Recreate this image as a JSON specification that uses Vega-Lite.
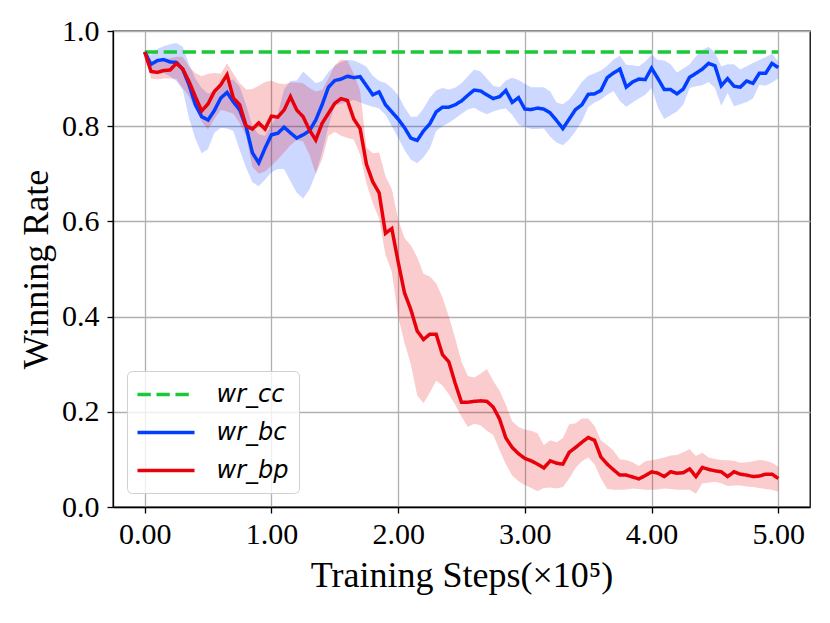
{
  "$schema": "https://vega.github.io/schema/vega-lite/v6.json",
  "width": 697,
  "height": 476,
  "autosize": {"type": "none"},
  "padding": {"left": 113, "top": 31, "right": 20, "bottom": 116},
  "background": "white",
  "config": {
    "view": {"stroke": "black", "strokeWidth": 1.3},
    "axis": {
      "labelFont": "Liberation Serif",
      "labelFontSize": 30,
      "labelColor": "black",
      "titleFont": "Liberation Serif",
      "titleFontSize": 36,
      "titleFontWeight": "normal",
      "titleColor": "black",
      "domainColor": "black",
      "domainWidth": 1.3,
      "tickColor": "black",
      "tickWidth": 1.3,
      "tickSize": 6,
      "gridColor": "#b0b0b0",
      "gridWidth": 1.3,
      "gridOpacity": 1,
      "labelFlush": false,
      "labelOverlap": false
    },
    "legend": {
      "orient": "bottom-left",
      "direction": "vertical",
      "offset": 14,
      "padding": 10,
      "fillColor": "rgba(255,255,255,0.8)",
      "strokeColor": "#d0d0d0",
      "cornerRadius": 5,
      "labelFont": "DejaVu Sans",
      "labelFontStyle": "italic",
      "labelFontSize": 24,
      "labelColor": "black",
      "symbolSize": 529,
      "symbolStrokeWidth": 3.5,
      "symbolOffset": 15.5,
      "labelOffset": 37,
      "rowPadding": 12
    }
  },
  "data": {
    "values": [
      {"step": 0.00, "wr_cc": 0.956, "wr_bc": 0.956, "bc_lo": 0.956, "bc_hi": 0.956, "wr_bp": 0.956, "bp_lo": 0.956, "bp_hi": 0.956},
      {"step": 0.05, "wr_cc": 0.956, "wr_bc": 0.930, "bc_lo": 0.915, "bc_hi": 0.950, "wr_bp": 0.915, "bp_lo": 0.900, "bp_hi": 0.935},
      {"step": 0.10, "wr_cc": 0.956, "wr_bc": 0.938, "bc_lo": 0.915, "bc_hi": 0.962, "wr_bp": 0.913, "bp_lo": 0.898, "bp_hi": 0.935},
      {"step": 0.15, "wr_cc": 0.956, "wr_bc": 0.940, "bc_lo": 0.912, "bc_hi": 0.968, "wr_bp": 0.917, "bp_lo": 0.900, "bp_hi": 0.940},
      {"step": 0.20, "wr_cc": 0.956, "wr_bc": 0.935, "bc_lo": 0.905, "bc_hi": 0.972, "wr_bp": 0.918, "bp_lo": 0.900, "bp_hi": 0.943},
      {"step": 0.25, "wr_cc": 0.956, "wr_bc": 0.934, "bc_lo": 0.895, "bc_hi": 0.975, "wr_bp": 0.932, "bp_lo": 0.899, "bp_hi": 0.946},
      {"step": 0.30, "wr_cc": 0.956, "wr_bc": 0.920, "bc_lo": 0.876, "bc_hi": 0.967, "wr_bp": 0.920, "bp_lo": 0.880, "bp_hi": 0.946},
      {"step": 0.35, "wr_cc": 0.956, "wr_bc": 0.887, "bc_lo": 0.817, "bc_hi": 0.930, "wr_bp": 0.894, "bp_lo": 0.862, "bp_hi": 0.925},
      {"step": 0.40, "wr_cc": 0.956, "wr_bc": 0.845, "bc_lo": 0.773, "bc_hi": 0.900, "wr_bp": 0.862, "bp_lo": 0.838, "bp_hi": 0.912},
      {"step": 0.45, "wr_cc": 0.956, "wr_bc": 0.820, "bc_lo": 0.743, "bc_hi": 0.880, "wr_bp": 0.832, "bp_lo": 0.810, "bp_hi": 0.905},
      {"step": 0.50, "wr_cc": 0.956, "wr_bc": 0.813, "bc_lo": 0.752, "bc_hi": 0.868, "wr_bp": 0.847, "bp_lo": 0.793, "bp_hi": 0.910},
      {"step": 0.55, "wr_cc": 0.956, "wr_bc": 0.833, "bc_lo": 0.786, "bc_hi": 0.875, "wr_bp": 0.873, "bp_lo": 0.815, "bp_hi": 0.912},
      {"step": 0.60, "wr_cc": 0.956, "wr_bc": 0.859, "bc_lo": 0.797, "bc_hi": 0.885, "wr_bp": 0.887, "bp_lo": 0.834, "bp_hi": 0.910},
      {"step": 0.65, "wr_cc": 0.956, "wr_bc": 0.871, "bc_lo": 0.795, "bc_hi": 0.896, "wr_bp": 0.908, "bp_lo": 0.831, "bp_hi": 0.932},
      {"step": 0.70, "wr_cc": 0.956, "wr_bc": 0.851, "bc_lo": 0.790, "bc_hi": 0.898, "wr_bp": 0.859, "bp_lo": 0.826, "bp_hi": 0.910},
      {"step": 0.75, "wr_cc": 0.956, "wr_bc": 0.834, "bc_lo": 0.750, "bc_hi": 0.883, "wr_bp": 0.845, "bp_lo": 0.806, "bp_hi": 0.890},
      {"step": 0.80, "wr_cc": 0.956, "wr_bc": 0.799, "bc_lo": 0.713, "bc_hi": 0.845, "wr_bp": 0.801, "bp_lo": 0.780, "bp_hi": 0.877},
      {"step": 0.85, "wr_cc": 0.956, "wr_bc": 0.744, "bc_lo": 0.682, "bc_hi": 0.800, "wr_bp": 0.794, "bp_lo": 0.715, "bp_hi": 0.878},
      {"step": 0.90, "wr_cc": 0.956, "wr_bc": 0.723, "bc_lo": 0.674, "bc_hi": 0.783, "wr_bp": 0.807, "bp_lo": 0.700, "bp_hi": 0.885},
      {"step": 0.95, "wr_cc": 0.956, "wr_bc": 0.754, "bc_lo": 0.688, "bc_hi": 0.780, "wr_bp": 0.794, "bp_lo": 0.705, "bp_hi": 0.893},
      {"step": 1.00, "wr_cc": 0.956, "wr_bc": 0.782, "bc_lo": 0.703, "bc_hi": 0.803, "wr_bp": 0.821, "bp_lo": 0.717, "bp_hi": 0.896},
      {"step": 1.05, "wr_cc": 0.956, "wr_bc": 0.785, "bc_lo": 0.710, "bc_hi": 0.825, "wr_bp": 0.819, "bp_lo": 0.730, "bp_hi": 0.890},
      {"step": 1.10, "wr_cc": 0.956, "wr_bc": 0.798, "bc_lo": 0.710, "bc_hi": 0.877, "wr_bp": 0.834, "bp_lo": 0.745, "bp_hi": 0.888},
      {"step": 1.15, "wr_cc": 0.956, "wr_bc": 0.786, "bc_lo": 0.685, "bc_hi": 0.895, "wr_bp": 0.862, "bp_lo": 0.760, "bp_hi": 0.892},
      {"step": 1.20, "wr_cc": 0.956, "wr_bc": 0.775, "bc_lo": 0.660, "bc_hi": 0.896, "wr_bp": 0.834, "bp_lo": 0.771, "bp_hi": 0.892},
      {"step": 1.25, "wr_cc": 0.956, "wr_bc": 0.782, "bc_lo": 0.648, "bc_hi": 0.915, "wr_bp": 0.820, "bp_lo": 0.768, "bp_hi": 0.890},
      {"step": 1.30, "wr_cc": 0.956, "wr_bc": 0.790, "bc_lo": 0.667, "bc_hi": 0.903, "wr_bp": 0.792, "bp_lo": 0.740, "bp_hi": 0.880},
      {"step": 1.35, "wr_cc": 0.956, "wr_bc": 0.813, "bc_lo": 0.700, "bc_hi": 0.890, "wr_bp": 0.771, "bp_lo": 0.700, "bp_hi": 0.873},
      {"step": 1.40, "wr_cc": 0.956, "wr_bc": 0.845, "bc_lo": 0.745, "bc_hi": 0.895, "wr_bp": 0.806, "bp_lo": 0.730, "bp_hi": 0.876},
      {"step": 1.45, "wr_cc": 0.956, "wr_bc": 0.882, "bc_lo": 0.800, "bc_hi": 0.914, "wr_bp": 0.827, "bp_lo": 0.780, "bp_hi": 0.900},
      {"step": 1.50, "wr_cc": 0.956, "wr_bc": 0.896, "bc_lo": 0.843, "bc_hi": 0.927, "wr_bp": 0.848, "bp_lo": 0.788, "bp_hi": 0.928},
      {"step": 1.55, "wr_cc": 0.956, "wr_bc": 0.899, "bc_lo": 0.847, "bc_hi": 0.935, "wr_bp": 0.858, "bp_lo": 0.780, "bp_hi": 0.940},
      {"step": 1.60, "wr_cc": 0.956, "wr_bc": 0.905, "bc_lo": 0.851, "bc_hi": 0.939, "wr_bp": 0.854, "bp_lo": 0.775, "bp_hi": 0.938},
      {"step": 1.65, "wr_cc": 0.956, "wr_bc": 0.902, "bc_lo": 0.855, "bc_hi": 0.938, "wr_bp": 0.815, "bp_lo": 0.772, "bp_hi": 0.910},
      {"step": 1.70, "wr_cc": 0.956, "wr_bc": 0.904, "bc_lo": 0.850, "bc_hi": 0.932, "wr_bp": 0.795, "bp_lo": 0.740, "bp_hi": 0.875},
      {"step": 1.75, "wr_cc": 0.956, "wr_bc": 0.885, "bc_lo": 0.845, "bc_hi": 0.925, "wr_bp": 0.720, "bp_lo": 0.680, "bp_hi": 0.755},
      {"step": 1.80, "wr_cc": 0.956, "wr_bc": 0.866, "bc_lo": 0.841, "bc_hi": 0.906, "wr_bp": 0.683, "bp_lo": 0.638, "bp_hi": 0.743},
      {"step": 1.85, "wr_cc": 0.956, "wr_bc": 0.872, "bc_lo": 0.837, "bc_hi": 0.895, "wr_bp": 0.660, "bp_lo": 0.605, "bp_hi": 0.745},
      {"step": 1.90, "wr_cc": 0.956, "wr_bc": 0.845, "bc_lo": 0.824, "bc_hi": 0.891, "wr_bp": 0.575, "bp_lo": 0.530, "bp_hi": 0.695},
      {"step": 1.95, "wr_cc": 0.956, "wr_bc": 0.830, "bc_lo": 0.800, "bc_hi": 0.880, "wr_bp": 0.585, "bp_lo": 0.494, "bp_hi": 0.668},
      {"step": 2.00, "wr_cc": 0.956, "wr_bc": 0.815, "bc_lo": 0.776, "bc_hi": 0.865, "wr_bp": 0.515, "bp_lo": 0.400, "bp_hi": 0.605},
      {"step": 2.05, "wr_cc": 0.956, "wr_bc": 0.797, "bc_lo": 0.750, "bc_hi": 0.840, "wr_bp": 0.450, "bp_lo": 0.345, "bp_hi": 0.565},
      {"step": 2.10, "wr_cc": 0.956, "wr_bc": 0.775, "bc_lo": 0.730, "bc_hi": 0.820, "wr_bp": 0.415, "bp_lo": 0.300, "bp_hi": 0.550},
      {"step": 2.15, "wr_cc": 0.956, "wr_bc": 0.770, "bc_lo": 0.722, "bc_hi": 0.820, "wr_bp": 0.370, "bp_lo": 0.235, "bp_hi": 0.525},
      {"step": 2.20, "wr_cc": 0.956, "wr_bc": 0.790, "bc_lo": 0.735, "bc_hi": 0.837, "wr_bp": 0.352, "bp_lo": 0.218, "bp_hi": 0.490},
      {"step": 2.25, "wr_cc": 0.956, "wr_bc": 0.805, "bc_lo": 0.753, "bc_hi": 0.860, "wr_bp": 0.363, "bp_lo": 0.240, "bp_hi": 0.484},
      {"step": 2.30, "wr_cc": 0.956, "wr_bc": 0.830, "bc_lo": 0.790, "bc_hi": 0.875, "wr_bp": 0.363, "bp_lo": 0.265, "bp_hi": 0.470},
      {"step": 2.35, "wr_cc": 0.956, "wr_bc": 0.840, "bc_lo": 0.800, "bc_hi": 0.880, "wr_bp": 0.320, "bp_lo": 0.255, "bp_hi": 0.440},
      {"step": 2.40, "wr_cc": 0.956, "wr_bc": 0.840, "bc_lo": 0.807, "bc_hi": 0.877, "wr_bp": 0.305, "bp_lo": 0.237, "bp_hi": 0.400},
      {"step": 2.45, "wr_cc": 0.956, "wr_bc": 0.845, "bc_lo": 0.816, "bc_hi": 0.881, "wr_bp": 0.260, "bp_lo": 0.215, "bp_hi": 0.355},
      {"step": 2.50, "wr_cc": 0.956, "wr_bc": 0.853, "bc_lo": 0.826, "bc_hi": 0.890, "wr_bp": 0.220, "bp_lo": 0.190, "bp_hi": 0.305},
      {"step": 2.55, "wr_cc": 0.956, "wr_bc": 0.865, "bc_lo": 0.835, "bc_hi": 0.905, "wr_bp": 0.220, "bp_lo": 0.168, "bp_hi": 0.275},
      {"step": 2.60, "wr_cc": 0.956, "wr_bc": 0.876, "bc_lo": 0.839, "bc_hi": 0.919, "wr_bp": 0.222, "bp_lo": 0.175, "bp_hi": 0.272},
      {"step": 2.65, "wr_cc": 0.956, "wr_bc": 0.874, "bc_lo": 0.831, "bc_hi": 0.915, "wr_bp": 0.223, "bp_lo": 0.172, "bp_hi": 0.280},
      {"step": 2.70, "wr_cc": 0.956, "wr_bc": 0.866, "bc_lo": 0.825, "bc_hi": 0.900, "wr_bp": 0.222, "bp_lo": 0.160, "bp_hi": 0.290},
      {"step": 2.75, "wr_cc": 0.956, "wr_bc": 0.858, "bc_lo": 0.831, "bc_hi": 0.885, "wr_bp": 0.210, "bp_lo": 0.152, "bp_hi": 0.265},
      {"step": 2.80, "wr_cc": 0.956, "wr_bc": 0.862, "bc_lo": 0.835, "bc_hi": 0.882, "wr_bp": 0.185, "bp_lo": 0.120, "bp_hi": 0.245},
      {"step": 2.85, "wr_cc": 0.956, "wr_bc": 0.875, "bc_lo": 0.837, "bc_hi": 0.896, "wr_bp": 0.145, "bp_lo": 0.090, "bp_hi": 0.215},
      {"step": 2.90, "wr_cc": 0.956, "wr_bc": 0.850, "bc_lo": 0.824, "bc_hi": 0.902, "wr_bp": 0.125, "bp_lo": 0.066, "bp_hi": 0.180},
      {"step": 2.95, "wr_cc": 0.956, "wr_bc": 0.860, "bc_lo": 0.804, "bc_hi": 0.897, "wr_bp": 0.112, "bp_lo": 0.054, "bp_hi": 0.168},
      {"step": 3.00, "wr_cc": 0.956, "wr_bc": 0.836, "bc_lo": 0.799, "bc_hi": 0.889, "wr_bp": 0.102, "bp_lo": 0.046, "bp_hi": 0.163},
      {"step": 3.05, "wr_cc": 0.956, "wr_bc": 0.835, "bc_lo": 0.794, "bc_hi": 0.882, "wr_bp": 0.097, "bp_lo": 0.040, "bp_hi": 0.160},
      {"step": 3.10, "wr_cc": 0.956, "wr_bc": 0.838, "bc_lo": 0.794, "bc_hi": 0.882, "wr_bp": 0.090, "bp_lo": 0.033, "bp_hi": 0.155},
      {"step": 3.15, "wr_cc": 0.956, "wr_bc": 0.836, "bc_lo": 0.795, "bc_hi": 0.882, "wr_bp": 0.082, "bp_lo": 0.040, "bp_hi": 0.130},
      {"step": 3.20, "wr_cc": 0.956, "wr_bc": 0.828, "bc_lo": 0.778, "bc_hi": 0.873, "wr_bp": 0.097, "bp_lo": 0.041, "bp_hi": 0.140},
      {"step": 3.25, "wr_cc": 0.956, "wr_bc": 0.812, "bc_lo": 0.766, "bc_hi": 0.850, "wr_bp": 0.092, "bp_lo": 0.039, "bp_hi": 0.136},
      {"step": 3.30, "wr_cc": 0.956, "wr_bc": 0.795, "bc_lo": 0.760, "bc_hi": 0.846, "wr_bp": 0.090, "bp_lo": 0.042, "bp_hi": 0.145},
      {"step": 3.35, "wr_cc": 0.956, "wr_bc": 0.815, "bc_lo": 0.772, "bc_hi": 0.856, "wr_bp": 0.115, "bp_lo": 0.060, "bp_hi": 0.174},
      {"step": 3.40, "wr_cc": 0.956, "wr_bc": 0.835, "bc_lo": 0.790, "bc_hi": 0.874, "wr_bp": 0.125, "bp_lo": 0.082, "bp_hi": 0.176},
      {"step": 3.45, "wr_cc": 0.956, "wr_bc": 0.845, "bc_lo": 0.810, "bc_hi": 0.893, "wr_bp": 0.136, "bp_lo": 0.096, "bp_hi": 0.186},
      {"step": 3.50, "wr_cc": 0.956, "wr_bc": 0.867, "bc_lo": 0.840, "bc_hi": 0.906, "wr_bp": 0.146, "bp_lo": 0.104, "bp_hi": 0.186},
      {"step": 3.55, "wr_cc": 0.956, "wr_bc": 0.868, "bc_lo": 0.850, "bc_hi": 0.911, "wr_bp": 0.140, "bp_lo": 0.090, "bp_hi": 0.170},
      {"step": 3.60, "wr_cc": 0.956, "wr_bc": 0.875, "bc_lo": 0.856, "bc_hi": 0.917, "wr_bp": 0.105, "bp_lo": 0.060, "bp_hi": 0.140},
      {"step": 3.65, "wr_cc": 0.956, "wr_bc": 0.902, "bc_lo": 0.866, "bc_hi": 0.927, "wr_bp": 0.090, "bp_lo": 0.038, "bp_hi": 0.130},
      {"step": 3.70, "wr_cc": 0.956, "wr_bc": 0.912, "bc_lo": 0.874, "bc_hi": 0.940, "wr_bp": 0.078, "bp_lo": 0.036, "bp_hi": 0.118},
      {"step": 3.75, "wr_cc": 0.956, "wr_bc": 0.920, "bc_lo": 0.853, "bc_hi": 0.948, "wr_bp": 0.067, "bp_lo": 0.036, "bp_hi": 0.100},
      {"step": 3.80, "wr_cc": 0.956, "wr_bc": 0.882, "bc_lo": 0.841, "bc_hi": 0.929, "wr_bp": 0.067, "bp_lo": 0.037, "bp_hi": 0.099},
      {"step": 3.85, "wr_cc": 0.956, "wr_bc": 0.893, "bc_lo": 0.850, "bc_hi": 0.928, "wr_bp": 0.063, "bp_lo": 0.039, "bp_hi": 0.094},
      {"step": 3.90, "wr_cc": 0.956, "wr_bc": 0.899, "bc_lo": 0.858, "bc_hi": 0.926, "wr_bp": 0.059, "bp_lo": 0.038, "bp_hi": 0.086},
      {"step": 3.95, "wr_cc": 0.956, "wr_bc": 0.898, "bc_lo": 0.866, "bc_hi": 0.936, "wr_bp": 0.066, "bp_lo": 0.036, "bp_hi": 0.096},
      {"step": 4.00, "wr_cc": 0.956, "wr_bc": 0.922, "bc_lo": 0.880, "bc_hi": 0.950, "wr_bp": 0.074, "bp_lo": 0.036, "bp_hi": 0.098},
      {"step": 4.05, "wr_cc": 0.956, "wr_bc": 0.900, "bc_lo": 0.840, "bc_hi": 0.939, "wr_bp": 0.071, "bp_lo": 0.037, "bp_hi": 0.101},
      {"step": 4.10, "wr_cc": 0.956, "wr_bc": 0.877, "bc_lo": 0.815, "bc_hi": 0.938, "wr_bp": 0.064, "bp_lo": 0.039, "bp_hi": 0.104},
      {"step": 4.15, "wr_cc": 0.956, "wr_bc": 0.877, "bc_lo": 0.823, "bc_hi": 0.930, "wr_bp": 0.074, "bp_lo": 0.038, "bp_hi": 0.108},
      {"step": 4.20, "wr_cc": 0.956, "wr_bc": 0.868, "bc_lo": 0.831, "bc_hi": 0.913, "wr_bp": 0.071, "bp_lo": 0.036, "bp_hi": 0.109},
      {"step": 4.25, "wr_cc": 0.956, "wr_bc": 0.878, "bc_lo": 0.845, "bc_hi": 0.921, "wr_bp": 0.072, "bp_lo": 0.036, "bp_hi": 0.115},
      {"step": 4.30, "wr_cc": 0.956, "wr_bc": 0.903, "bc_lo": 0.880, "bc_hi": 0.930, "wr_bp": 0.080, "bp_lo": 0.036, "bp_hi": 0.122},
      {"step": 4.35, "wr_cc": 0.956, "wr_bc": 0.911, "bc_lo": 0.884, "bc_hi": 0.947, "wr_bp": 0.064, "bp_lo": 0.028, "bp_hi": 0.107},
      {"step": 4.40, "wr_cc": 0.956, "wr_bc": 0.920, "bc_lo": 0.886, "bc_hi": 0.960, "wr_bp": 0.083, "bp_lo": 0.050, "bp_hi": 0.114},
      {"step": 4.45, "wr_cc": 0.956, "wr_bc": 0.932, "bc_lo": 0.893, "bc_hi": 0.967, "wr_bp": 0.079, "bp_lo": 0.051, "bp_hi": 0.104},
      {"step": 4.50, "wr_cc": 0.956, "wr_bc": 0.927, "bc_lo": 0.880, "bc_hi": 0.955, "wr_bp": 0.076, "bp_lo": 0.053, "bp_hi": 0.101},
      {"step": 4.55, "wr_cc": 0.956, "wr_bc": 0.885, "bc_lo": 0.843, "bc_hi": 0.926, "wr_bp": 0.074, "bp_lo": 0.050, "bp_hi": 0.099},
      {"step": 4.60, "wr_cc": 0.956, "wr_bc": 0.900, "bc_lo": 0.870, "bc_hi": 0.930, "wr_bp": 0.064, "bp_lo": 0.044, "bp_hi": 0.098},
      {"step": 4.65, "wr_cc": 0.956, "wr_bc": 0.884, "bc_lo": 0.842, "bc_hi": 0.930, "wr_bp": 0.074, "bp_lo": 0.045, "bp_hi": 0.097},
      {"step": 4.70, "wr_cc": 0.956, "wr_bc": 0.882, "bc_lo": 0.846, "bc_hi": 0.919, "wr_bp": 0.069, "bp_lo": 0.045, "bp_hi": 0.093},
      {"step": 4.75, "wr_cc": 0.956, "wr_bc": 0.895, "bc_lo": 0.851, "bc_hi": 0.926, "wr_bp": 0.067, "bp_lo": 0.043, "bp_hi": 0.094},
      {"step": 4.80, "wr_cc": 0.956, "wr_bc": 0.890, "bc_lo": 0.858, "bc_hi": 0.933, "wr_bp": 0.064, "bp_lo": 0.042, "bp_hi": 0.096},
      {"step": 4.85, "wr_cc": 0.956, "wr_bc": 0.911, "bc_lo": 0.887, "bc_hi": 0.939, "wr_bp": 0.065, "bp_lo": 0.040, "bp_hi": 0.099},
      {"step": 4.90, "wr_cc": 0.956, "wr_bc": 0.911, "bc_lo": 0.885, "bc_hi": 0.945, "wr_bp": 0.069, "bp_lo": 0.038, "bp_hi": 0.097},
      {"step": 4.95, "wr_cc": 0.956, "wr_bc": 0.932, "bc_lo": 0.892, "bc_hi": 0.952, "wr_bp": 0.069, "bp_lo": 0.036, "bp_hi": 0.093},
      {"step": 5.00, "wr_cc": 0.956, "wr_bc": 0.923, "bc_lo": 0.900, "bc_hi": 0.936, "wr_bp": 0.060, "bp_lo": 0.032, "bp_hi": 0.085}
    ]
  },
  "encoding": {
    "x": {
      "field": "step",
      "type": "quantitative",
      "scale": {"domain": [-0.25, 5.25], "nice": false, "zero": false},
      "axis": {
        "values": [0, 1, 2, 3, 4, 5],
        "format": ".2f",
        "title": "Training Steps(×10⁵)",
        "labelPadding": 6,
        "titlePadding": 9
      }
    }
  },
  "layer": [
    {
      "mark": {"type": "area", "color": "#023eff", "opacity": 0.2},
      "encoding": {
        "y": {
          "field": "bc_lo",
          "type": "quantitative",
          "scale": {"domain": [0, 1], "nice": false},
          "axis": {
            "values": [0, 0.2, 0.4, 0.6, 0.8, 1.0],
            "format": ".1f",
            "title": "Winning Rate",
            "labelPadding": 8,
            "titlePadding": 6
          }
        },
        "y2": {"field": "bc_hi"}
      }
    },
    {
      "mark": {"type": "area", "color": "#e8000b", "opacity": 0.2},
      "encoding": {
        "y": {"field": "bp_lo", "type": "quantitative"},
        "y2": {"field": "bp_hi"}
      }
    },
    {
      "mark": {"type": "line", "strokeWidth": 3.5},
      "encoding": {
        "y": {"field": "wr_cc", "type": "quantitative"},
        "color": {
          "datum": "wr_cc",
          "type": "nominal",
          "scale": {"domain": ["wr_cc", "wr_bc", "wr_bp"], "range": ["#1ac938", "#023eff", "#e8000b"]},
          "legend": {"title": null, "symbolType": "M-2.48,0H2.48"}
        },
        "strokeDash": {
          "datum": "wr_cc",
          "type": "nominal",
          "scale": {"domain": ["wr_cc", "wr_bc", "wr_bp"], "range": [[13.3, 5.7], [1, 0], [1, 0]]},
          "legend": {"title": null, "symbolType": "M-2.48,0H2.48"}
        }
      }
    },
    {
      "mark": {"type": "line", "strokeWidth": 3.5},
      "encoding": {
        "y": {"field": "wr_bc", "type": "quantitative"},
        "color": {"datum": "wr_bc", "type": "nominal"},
        "strokeDash": {"datum": "wr_bc", "type": "nominal"}
      }
    },
    {
      "mark": {"type": "line", "strokeWidth": 3.5},
      "encoding": {
        "y": {"field": "wr_bp", "type": "quantitative"},
        "color": {"datum": "wr_bp", "type": "nominal"},
        "strokeDash": {"datum": "wr_bp", "type": "nominal"}
      }
    }
  ]
}
